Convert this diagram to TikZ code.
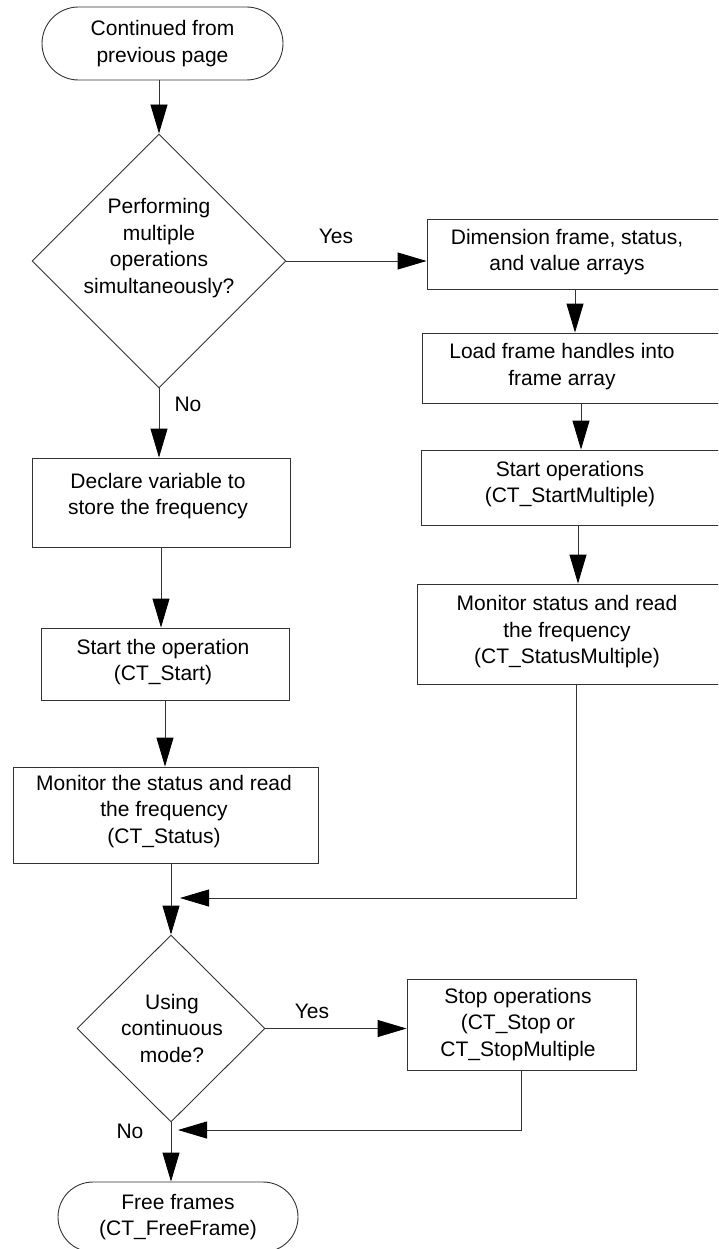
\documentclass[tikz,border=0pt]{standalone}
\usepackage{fontspec}
\setmainfont{Liberation Sans}
\usetikzlibrary{arrows.meta,shapes.geometric,shapes.misc}
\begin{document}
\begin{tikzpicture}[x=1pt,y=-1pt,
  every node/.style={font=\fontsize{21}{26.5}\selectfont},
  line/.style={draw=black!80, line width=0.9pt},
  flow/.style={line, -{Triangle[length=29pt,width=17pt,color=black]}},
  box/.style={line, rectangle, inner sep=0pt},
  term/.style={line, rounded rectangle, inner sep=0pt, align=center},
  decision/.style={line, diamond, inner sep=0pt},
  txt/.style={inner sep=0pt, align=center},
  lbl/.style={inner sep=0pt}]
\useasboundingbox (0,0) rectangle (718,1249);
\clip (0,0) rectangle (718,1249);

% terminals
\node[term, minimum width=241pt, minimum height=73pt] (start) at (162.5,43.5) {Continued from\\previous page};
\node[term, minimum width=240pt, minimum height=70pt] (end) at (178,1217) {Free frames\\(CT\_FreeFrame)};

% first decision
\node[decision, minimum width=254pt, minimum height=254pt] (q1) at (159,261) {};
\node[txt] (q1t) at (159,248) {Performing\\multiple\\operations\\simultaneously?};

% multiple-operation branch
\node[box, minimum width=313pt, minimum height=70pt] (dim) at (583.5,254) {};
\node[txt] (dimt) at (567,252) {Dimension frame, status,\\and value arrays};
\node[box, minimum width=318pt, minimum height=70pt] (load) at (581,368) {};
\node[txt] (loadt) at (562,366.5) {Load frame handles into\\frame array};
\node[box, minimum width=319pt, minimum height=75pt] (startm) at (580.5,487.5) {};
\node[txt] (startmt) at (570,484) {Start operations\\(CT\_StartMultiple)};
\node[box, minimum width=323pt, minimum height=100pt] (monm) at (578.5,634) {};
\node[txt] (monmt) at (567,632) {Monitor status and read\\the frequency\\(CT\_StatusMultiple)};

% single-operation branch
\node[box, minimum width=258pt, minimum height=89pt] (decl) at (161,502.5) {};
\node[txt] (declt) at (158,496) {Declare variable to\\store the frequency};
\node[box, minimum width=248pt, minimum height=72pt] (st) at (165,664) {};
\node[txt] (stt) at (163,662) {Start the operation\\(CT\_Start)};
\node[box, minimum width=305pt, minimum height=96pt] (mon) at (165.5,815) {};
\node[txt] (mont) at (164,811.5) {Monitor the status and read\\the frequency\\(CT\_Status)};

% second decision
\node[decision, minimum width=188pt, minimum height=187pt] (q2) at (171,1028.5) {};
\node[txt] (q2t) at (172,1028) {Using\\continuous\\mode?};
\node[box, minimum width=229pt, minimum height=91pt] (stop) at (521.5,1024.5) {};
\node[txt] (stopt) at (518,1024.5) {Stop operations\\(CT\_Stop or\\CT\_StopMultiple};

% branch labels
\node[lbl] (yes1) at (336,236) {Yes};
\node[lbl] (no1) at (188,404) {No};
\node[lbl] (yes2) at (312,1011) {Yes};
\node[lbl] (no2) at (130,1131) {No};

% merge points
\coordinate (j1) at (180,898);
\coordinate (j2) at (178,1130);

% connectors
\draw[flow] (start.south -| q1.north) -- (q1.north);
\draw[flow] (q1.east) -- (q1.east -| dim.west);
\draw[flow] ([xshift=-8.5pt]dim.south) -- ([xshift=-8.5pt]dim.south |- load.north);
\draw[flow] (load.south) -- (load.south |- startm.north);
\draw[flow] ([xshift=-2.5pt]startm.south) -- ([xshift=-2.5pt]startm.south |- monm.north);
\draw[flow] ([xshift=-2.5pt]monm.south) |- (j1);
\draw[flow] (q1.south) -- (q1.south |- decl.north);
\draw[flow] (decl.south) -- (decl.south |- st.north);
\draw[flow] (st.south) -- (st.south |- mon.north);
\draw[line] (mon.south -| q2.north) -- (q2.north |- j1);
\draw[flow] (q2.north |- j1) -- (q2.north);
\draw[flow] (q2.east) -- (q2.east -| stop.west);
\draw[flow] (stop.south) |- (j2);
\draw[flow] (q2.south) -- (q2.south |- end.north);
\end{tikzpicture}
\end{document}
